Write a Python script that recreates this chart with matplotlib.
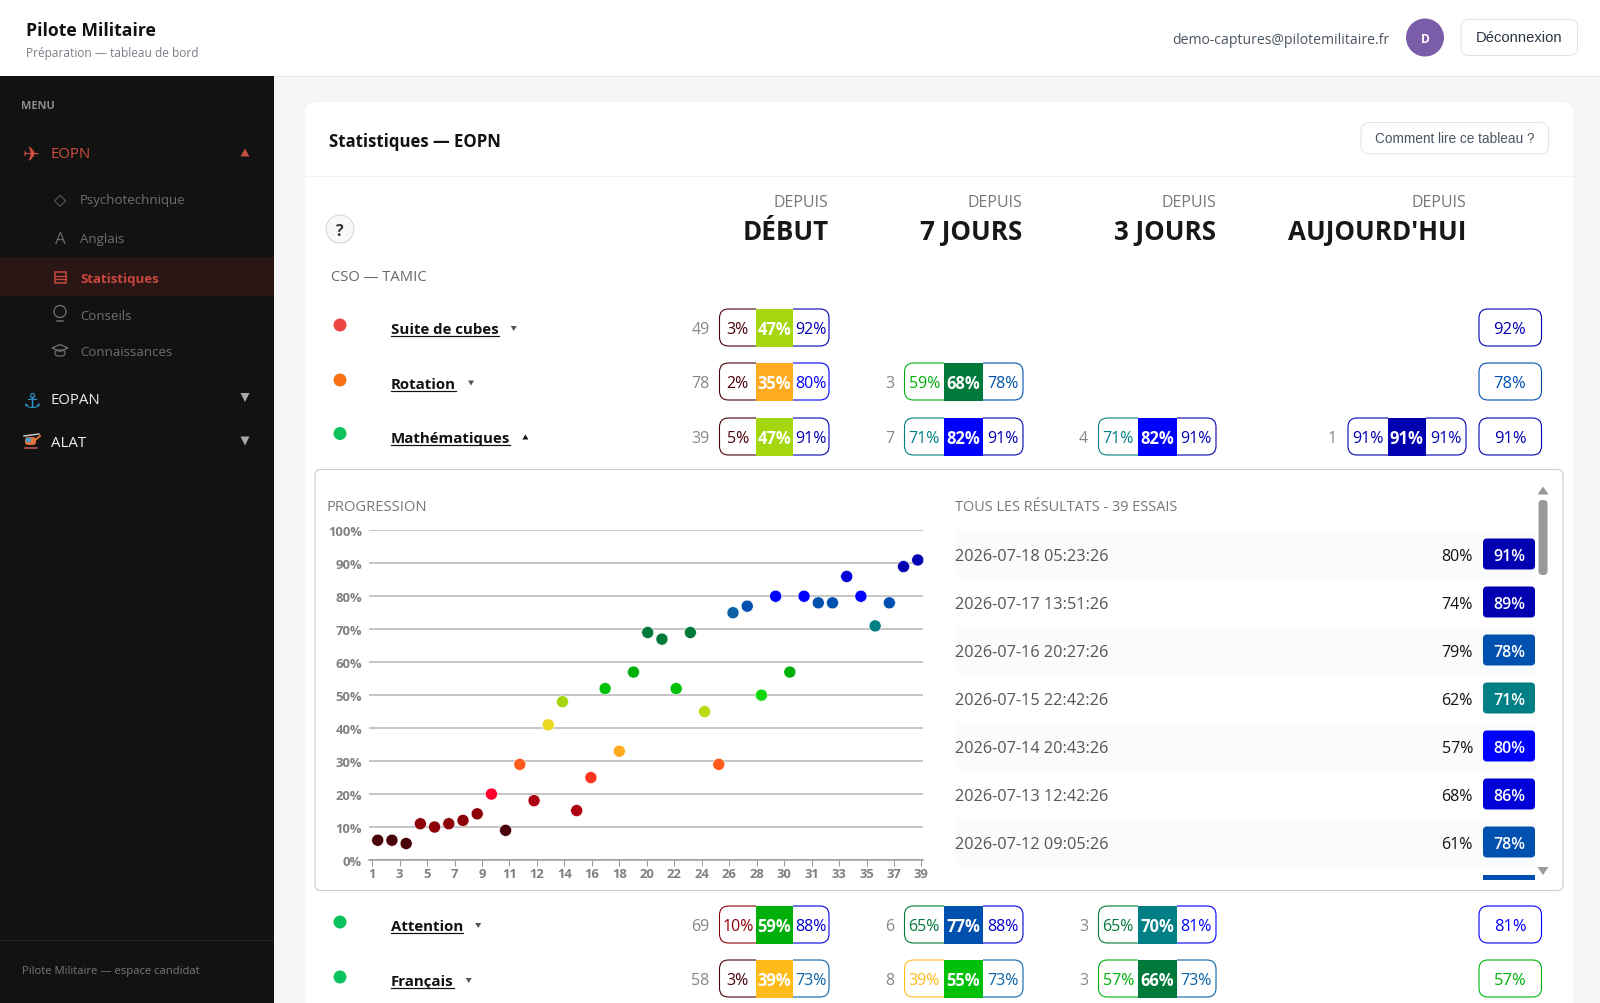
import bisect
import matplotlib
matplotlib.use('Agg')
import matplotlib.pyplot as plt
import numpy as np
from matplotlib.patches import Circle, FancyBboxPatch, Polygon, Rectangle

plt.rcParams['font.family'] = ['Open Sans', 'DejaVu Sans']

# chart values
essais = np.arange(1, 40)
scores = [6, 6, 5, 11, 10, 11, 12, 14, 20, 9, 29, 18, 41, 48, 15, 25, 52, 33, 57, 69,
          67, 52, 69, 45, 29, 75, 77, 50, 80, 57, 80, 78, 78, 86, 80, 71, 78, 89, 91]
y_ticks = [0, 10, 20, 30, 40, 50, 60, 70, 80, 90, 100]
x_tick_labels = ['1', '3', '5', '7', '9', '11', '12', '14', '16', '18', '20', '22', '24',
                 '26', '28', '30', '31', '33', '35', '37', '39']

# results list
dates = ['2026-07-18 05:23:26', '2026-07-17 13:51:26', '2026-07-16 20:27:26', '2026-07-15 22:42:26',
         '2026-07-14 20:43:26', '2026-07-13 12:42:26', '2026-07-12 09:05:26']
res_left = [80, 74, 79, 62, 57, 68, 61]
res_right = [91, 89, 78, 71, 80, 86, 78]

# table rows
names = ['Suite de cubes', 'Rotation', 'Mathématiques', 'Attention', 'Français']
dots = ['#ef4444', '#f97316', '#0cc25e', '#0cc25e', '#0cc25e']
debut = [(49, 3, 47, 92), (78, 2, 35, 80), (39, 5, 47, 91), (69, 10, 59, 88), (58, 3, 39, 73)]
jours7 = [None, (3, 59, 68, 78), (7, 71, 82, 91), (6, 65, 77, 88), (8, 39, 55, 73)]
jours3 = [None, None, (4, 71, 82, 91), (3, 65, 70, 81), (3, 57, 66, 73)]
auj = [None, None, (1, 91, 91, 91), None, None]
dernier = [92, 78, 91, 81, 57]

# colour scale of the scores
bornes = [9, 14, 19, 24, 27, 32, 37, 40, 44, 46, 49, 51, 56, 60, 69, 72, 76, 79, 84, 88, 100]
teintes = ['#4a0008', '#8c0008', '#ad0010', '#ff0030', '#ff3520', '#ff5a1e', '#ffab1f', '#ffbb1a',
           '#ecd81f', '#bcdb14', '#a5d70f', '#0fd80f', '#00c00a', '#00b00a', '#007a3a', '#008085',
           '#0a62a5', '#0050b0', '#0000ff', '#0000d8', '#0000b0']


def couleur(v):
    return teintes[bisect.bisect_left(bornes, v)]


def px(n):
    return n * 0.72


fig = plt.figure(figsize=(16, 10.04), dpi=100, facecolor='#f4f6f8')
ax = fig.add_axes([0, 0, 1, 1])
ax.set_xlim(0, 1600)
ax.set_ylim(1003, -1)  # page sits one pixel lower than the crops suggest
ax.axis('off')
rend = fig.canvas.get_renderer()


def txt(x, y, s, size, color='#111111', ha='left', weight='normal', family=None, **kw):
    if family is not None:
        kw['family'] = family
    return ax.text(x, y, s, fontsize=px(size), color=color, ha=ha, va='center_baseline', weight=weight, **kw)


def boite(x0, y0, x1, y1, r, fc='white', ec='none', lw=1.0, **kw):
    p = FancyBboxPatch((x0, y0), x1 - x0, y1 - y0, boxstyle=f'round,pad=0,rounding_size={r}',
                       fc=fc, ec=ec, lw=px(lw), **kw)
    ax.add_patch(p)
    return p


def tri(x, y, w, h, color, up=True):
    s = -1 if up else 1
    ax.add_patch(Polygon([(x - w / 2, y - s * h / 2), (x + w / 2, y - s * h / 2), (x, y + s * h / 2)],
                         closed=True, fc=color, ec='none'))


# top bar
ax.add_patch(Rectangle((0, -1), 1600, 77, fc='white', ec='none'))
ax.plot([274, 1600], [75.5, 75.5], color='#e5e7eb', lw=px(1))
txt(26, 28, 'Pilote Militaire', 17.6, '#0f1115', weight='bold')
txt(26, 50.5, 'Préparation — tableau de bord', 12, '#7a7f87')
txt(1389, 37.5, 'demo-captures@pilotemilitaire.fr', 14, '#4b5563', ha='right')
ax.add_patch(Circle((1425, 37.5), 19, fc='#7a5ca8', ec='none'))
txt(1425, 37, 'D', 12, 'white', ha='center', weight='bold')
boite(1461, 19.5, 1577.5, 55.5, 8, ec='#e2e4e8')
txt(1519, 36, 'Déconnexion', 14.7, '#2b3343', ha='center', family='Liberation Sans')

# sidebar
ax.add_patch(Rectangle((0, 76), 274, 930, fc='#121212', ec='none'))
txt(21.5, 104, 'MENU', 11, '#8a8a8a', weight='bold')
txt(31, 152.5, '✈', 20, '#d9503f', ha='center', family='DejaVu Sans')
txt(51, 152, 'EOPN', 15, '#cf4f3e')
tri(245, 152.5, 9, 8, '#c0503f', up=True)
sub_items = ['Psychotechnique', 'Anglais', 'Statistiques', 'Conseils', 'Connaissances']
sub_y = [198, 237, 277, 314, 350]
ax.add_patch(Rectangle((0, 257), 274, 39, fc='#2a1615', ec='none'))
for label, y in zip(sub_items, sub_y):
    on = label == 'Statistiques'
    txt(80, y, label, 13.2, '#c9473c' if on else '#6f6f6f', weight='bold' if on else 'normal')
txt(60, 198, '◇', 16, '#6f6f6f', ha='center', family='DejaVu Sans')
txt(60, 237, 'A', 17, '#666666', ha='center')
ax.add_patch(Rectangle((55, 272), 11, 11, fc='none', ec='#c9473c', lw=px(1.5)))
ax.plot([55, 66], [275.7, 275.7], color='#c9473c', lw=px(1.3))
ax.plot([55, 66], [279.3, 279.3], color='#c9473c', lw=px(1.3))
ax.add_patch(Circle((60, 311.5), 6, fc='none', ec='#6f6f6f', lw=px(1.3)))
ax.plot([57, 63], [321, 321], color='#6f6f6f', lw=px(1.5))
ax.add_patch(Polygon([(52, 348), (60, 344.5), (68, 348), (60, 351.5)], closed=True, fc='none', ec='#6f6f6f', lw=px(1.3)))
boite(55, 350, 65, 356, 3, fc='none', ec='#6f6f6f', lw=1.2)
txt(32, 399, '⚓', 21, '#2d8fc8', ha='center', family='DejaVu Sans')
txt(51, 398, 'EOPAN', 15, '#eeeeee')
tri(245, 397.5, 9, 9, '#a8a8a8', up=False)
# petit helico
boite(25, 437, 36, 445, 3, fc='#e0713a')
ax.add_patch(Rectangle((26, 438), 5, 4, fc='#3fa0d0', ec='none'))
ax.plot([24, 39], [436, 434], color='#c8c8c8', lw=px(1.5))
ax.plot([35, 40], [440, 436], color='#e0713a', lw=px(2))
ax.plot([25, 37], [448, 448], color='#c85a5a', lw=px(1.5))
txt(51, 440.5, 'ALAT', 15, '#eeeeee')
tri(245, 441, 9, 9, '#a8a8a8', up=False)
ax.plot([0, 273], [940, 940], color='#232427', lw=px(1))
txt(21.5, 969.5, 'Pilote Militaire — espace candidat', 11.2, '#777777')

# main card
boite(304, 101, 1574, 1040, 12, ec='#eff1f3')
ax.plot([304, 1574], [176, 176], color='#f1f3f5', lw=px(1))
txt(329, 139, 'Statistiques — EOPN', 16.7, '#0f1115', weight='bold')
boite(1361, 122.5, 1548.5, 154, 9, ec='#e2e4e8')
txt(1455, 136.5, 'Comment lire ce tableau ?', 13.6, '#4b5563', ha='center', family='Liberation Sans')
ax.add_patch(Circle((340, 229), 14, fc='#f8f9fa', ec='#d0d5da', lw=px(1)))
txt(340, 228.5, '?', 16, '#333333', ha='center', weight='bold')

head_x = [828.5, 1022.5, 1216.5, 1466]
head_txt = ['DÉBUT', '7 JOURS', '3 JOURS', "AUJOURD'HUI"]
for x, h in zip(head_x, head_txt):
    txt(x, 200, 'DEPUIS', 16, '#777777', ha='right')
    txt(x, 229, h, 26, '#15171a', ha='right', weight='bold')
txt(331, 275, 'CSO — TAMIC', 14.7, '#666666')

# columns of the table: left edge, middle start, middle end, right edge, count right edge
cols = [(719.5, 756, 792.5, 829, 709.5), (904.5, 944, 982.5, 1023, 894),
        (1098.5, 1138, 1176.5, 1216, 1088), (1348, 1387.5, 1426, 1466, 1337)]
badge_y = [309, 363, 418, 906, 960]
name_y = [328, 382.5, 436.5, 925, 980]
dot_y = [325, 380, 433.5, 922, 977]
BH = 37


def triple(col, y0, vals):
    n, a, b, c = vals
    x0, m0, m1, x1, xc = col
    ym = y0 + BH / 2
    txt(xc, ym, str(n), 16, '#888888', ha='right')
    left = boite(x0, y0, x1, y0 + BH, 9, fc='white', ec=couleur(a), lw=1.1)
    left.set_clip_path(Rectangle((x0 - 3, y0 - 3), m0 - x0 + 3, BH + 6, transform=ax.transData))
    right = boite(x0, y0, x1, y0 + BH, 9, fc='white', ec=couleur(c), lw=1.1)
    right.set_clip_path(Rectangle((m1, y0 - 3), x1 - m1 + 3, BH + 6, transform=ax.transData))
    ax.add_patch(Rectangle((m0, y0 - 0.5), m1 - m0, BH + 1, fc=couleur(b), ec='none'))
    txt((x0 + m0) / 2, ym, f'{a}%', 16, couleur(a), ha='center')
    txt((m0 + m1) / 2, ym, f'{b}%', 16.5, 'white', ha='center', weight='bold')
    txt((m1 + x1) / 2, ym, f'{c}%', 16, couleur(c), ha='center')


for i, name in enumerate(names):
    ax.add_patch(Circle((340, dot_y[i]), 6.5, fc=dots[i], ec='none'))
    t = txt(391, name_y[i], name, 15, '#0f1115', weight='bold')
    w = t.get_window_extent(rend).width
    ax.plot([391, 391 + w], [name_y[i] + 8, name_y[i] + 8], color='#0f1115', lw=px(1.2))
    ouvert = name == 'Mathématiques'
    tri(391 + w + 15, name_y[i] + 0.5, 6, 5, '#111111' if ouvert else '#555555', up=ouvert)
    for col, serie in zip(cols, [debut, jours7, jours3, auj]):
        if serie[i] is not None:
            triple(col, badge_y[i], serie[i])
    boite(1479, badge_y[i], 1541.5, badge_y[i] + BH, 9, ec=couleur(dernier[i]), lw=1.1)
    txt(1510, badge_y[i] + BH / 2 - 0.5, f'{dernier[i]}%', 16.5, couleur(dernier[i]), ha='center')

# detail panel
boite(315, 469.5, 1563, 890.5, 6, ec='#cccccc', lw=1.2)
txt(326.5, 505, 'PROGRESSION', 14.7, '#777777')
txt(955, 505, 'TOUS LES RÉSULTATS - 39 ESSAIS', 14.5, '#777777')

for i, d in enumerate(dates):
    y = 554 + 48 * i
    if i % 2 == 0:
        ax.add_patch(Rectangle((955, y - 24), 581, 48, fc='#f9fbfc', ec='none'))
    txt(955, y, d, 16.3, '#555555')
    txt(1473, y, f'{res_left[i]}%', 16, '#111111', ha='right')
    boite(1483, y - 15.5, 1535, y + 15.5, 4, fc=couleur(res_right[i]))
    txt(1509, y, f'{res_right[i]}%', 16, 'white', ha='center', weight='semibold')
# next row of the list, cut by the scroll area
ax.add_patch(Rectangle((1483, 875), 52, 4.5, fc='#0050b0', ec='none'))
boite(1538.5, 500, 1547.5, 575, 4, fc='#999999')
tri(1543, 490.5, 11, 8, '#999999', up=True)
tri(1543, 871, 11, 8, '#999999', up=False)

# scatter chart
ch = fig.add_axes([369 / 1600, 1 - 861 / 1004, (923 - 369) / 1600, (860 - 530.3) / 1004])
ch.patch.set_alpha(0)
ch.set_xlim(0.386, 39.37)
ch.set_ylim(0, 100)
for s in ['top', 'right', 'left']:
    ch.spines[s].set_visible(False)
ch.spines['bottom'].set_color('#999999')
ch.spines['bottom'].set_linewidth(px(1.5))
ch.set_yticks(y_ticks)
ch.set_yticklabels([f'{v}%' for v in y_ticks], fontsize=px(13), color='#808080', weight='bold', va='center_baseline')
ch.tick_params(axis='y', length=0, pad=px(7))
ch.set_xticks(np.linspace(0.61, 39.26, len(x_tick_labels)))
ch.set_xticklabels(x_tick_labels, fontsize=px(13), color='#808080', weight='bold')
ch.tick_params(axis='x', length=px(6), width=px(1), color='#999999', pad=px(1))
ch.grid(axis='y', color='#b4b4b4', lw=px(1.5))
ch.set_axisbelow(True)
ch.scatter(essais, scores, s=75, c=[couleur(v) for v in scores], edgecolors='white', linewidths=0.4,
           zorder=3, clip_on=False)

fig.savefig('out.png', dpi=100, facecolor=fig.get_facecolor())
